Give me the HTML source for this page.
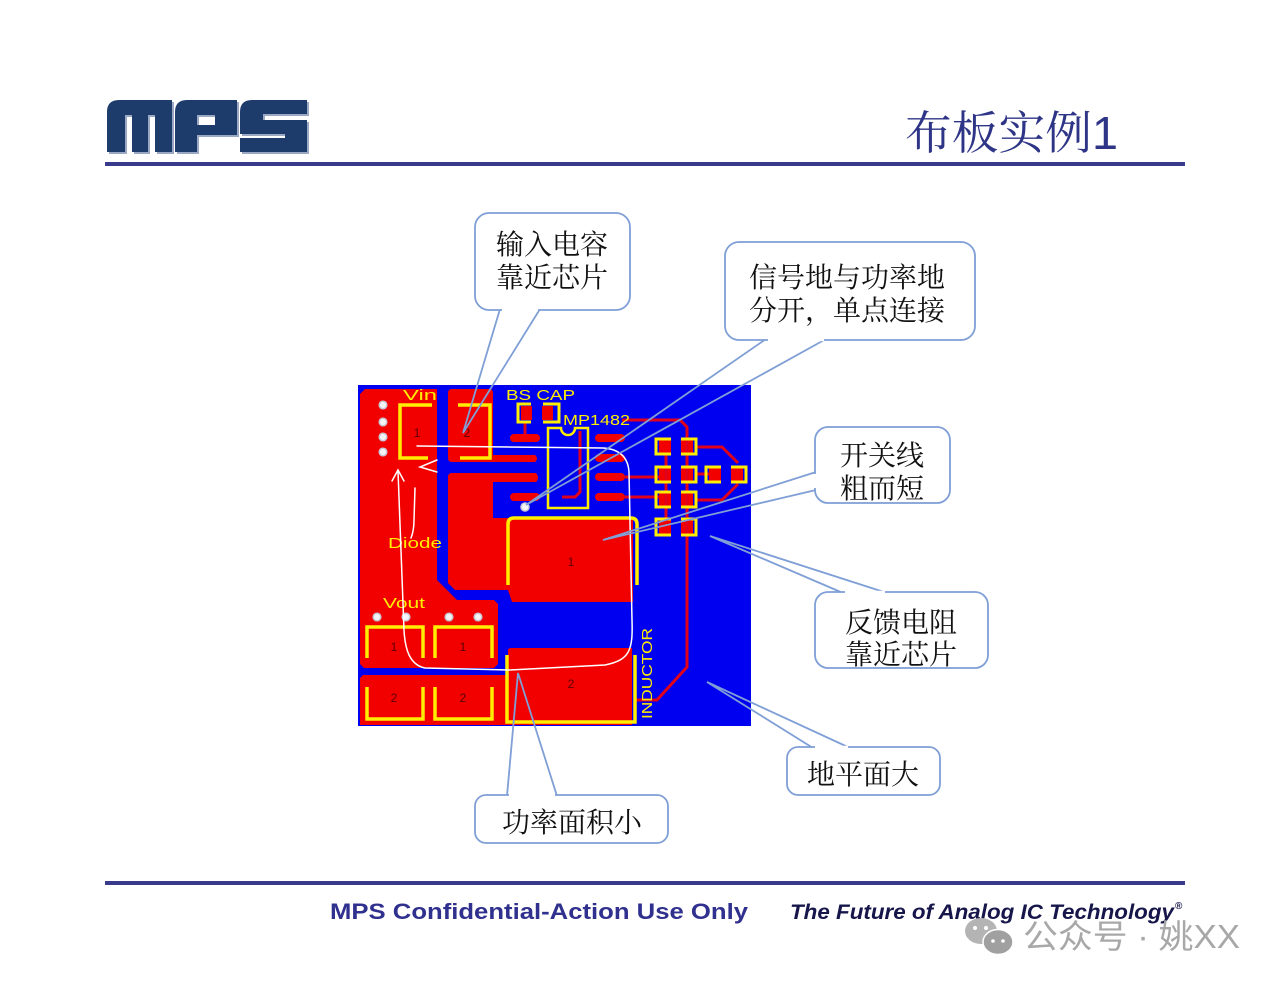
<!DOCTYPE html>
<html><head><meta charset="utf-8"><style>
html,body{margin:0;padding:0;background:#fff;}
svg{display:block;}
</style></head><body>
<svg width="1280" height="989" viewBox="0 0 1280 989" xmlns="http://www.w3.org/2000/svg">
<rect width="1280" height="989" fill="#fff"/>

<!-- MPS logo -->
<g transform="translate(2,2)" fill="#9aa8c4">
  <path d="M107 152 L107 112 Q107 100 119 100 L172 100 L172 152 L155 152 L155 115 L148 115 L148 152 L132 152 L132 115 L125 115 L125 152 Z"/>
  <path d="M175 152 L175 112 Q175 100 187 100 L237 100 L237 135 L197 135 L197 152 Z M197 115 L197 125 L215 125 L215 115 Z" fill-rule="evenodd"/>
  <path d="M240 134 L240 112 Q240 100 252 100 L307 100 L307 114 L263 114 L263 120 L307 120 L307 152 L240 152 L240 138 L285 138 L285 134 Z"/>
</g>
<g fill="#1d3b6b">
  <path d="M107 152 L107 112 Q107 100 119 100 L172 100 L172 152 L155 152 L155 115 L148 115 L148 152 L132 152 L132 115 L125 115 L125 152 Z"/>
  <path d="M175 152 L175 112 Q175 100 187 100 L237 100 L237 135 L197 135 L197 152 Z M197 115 L197 125 L215 125 L215 115 Z" fill-rule="evenodd"/>
  <path d="M240 134 L240 112 Q240 100 252 100 L307 100 L307 114 L263 114 L263 120 L307 120 L307 152 L240 152 L240 138 L285 138 L285 134 Z"/>
</g>

<!-- Title -->
<text x="905" y="149" font-family="'Liberation Sans','Noto Serif CJK SC',serif" font-size="46" fill="#2e3587" textLength="213" lengthAdjust="spacingAndGlyphs">布板实例1</text>
<rect x="105" y="162" width="1080" height="4" fill="#3a3a8c"/>

<!-- PCB board -->
<rect x="358" y="385" width="393" height="341" fill="#0000f0"/>
<g fill="#f20000">
  <!-- left Vin/Diode/Vout region -->
  <path d="M365 389 L437 389 L437 580 L457 600 L494 600 L498 604 L498 664 L494 668 L364 668 L360 664 L360 394 Z"/>
  <!-- input cap pad 2 -->
  <path d="M452 389 L489 389 Q493 389 493 393 L493 455 L535 455 Q539 458.5 535 462 L452 462 Q448 462 448 458 L448 393 Q448 389 452 389 Z"/>
  <!-- SW region + inductor pad 1 -->
  <path d="M452 473 L536 473 Q540 477.5 536 482 L493 482 L493 518 L633 518 L633 602 L512 602 L508 590 L455 590 L448 583 L448 477 Q448 473 452 473 Z"/>
  <!-- bottom + inductor pad 2 -->
  <path d="M363 675 L508 675 L508 650 Q508 648 512 648 L632 648 L632 725 L360 725 L360 678 Z"/>
  <!-- IC pins -->
  <rect x="510" y="434" width="30" height="8" rx="4"/>
  <rect x="510" y="493" width="30" height="8" rx="4"/>
  <rect x="595" y="434" width="30" height="8" rx="4"/>
  <rect x="595" y="454" width="30" height="8" rx="4"/>
  <rect x="595" y="473" width="30" height="8" rx="4"/>
  <rect x="595" y="493" width="30" height="8" rx="4"/>
  <!-- BS cap pad fills -->
  <rect x="521" y="406" width="11" height="14"/>
  <rect x="542" y="406" width="11" height="14"/>
  <!-- right column pad fills -->
  <rect x="659" y="440" width="12" height="13"/>
  <rect x="681" y="440" width="12" height="13"/>
  <rect x="659" y="468" width="12" height="13"/>
  <rect x="681" y="468" width="12" height="13"/>
  <rect x="659" y="493" width="12" height="13"/>
  <rect x="681" y="493" width="12" height="13"/>
  <rect x="659" y="520" width="12" height="14"/>
  <rect x="681" y="520" width="12" height="14"/>
  <rect x="709" y="468" width="12" height="13"/>
  <rect x="731" y="468" width="12" height="13"/>
</g>
<!-- thin red traces -->
<g fill="none" stroke="#e0001c" stroke-width="3">
  <path d="M622 420 L680 420 L687 427 L687 667 L657 700 L636 700"/>
  <path d="M525 423 L525 435"/>
  <path d="M580 431 L580 492 L575 497 L562 497"/>
  <path d="M625 477 L659 477"/>
  <path d="M625 497 L659 497"/>
  <path d="M666 453 L666 520"/>
  <path d="M697 447 L722 447 L738 463"/>
  <path d="M738 484 L722 500 L697 500"/>
  <path d="M697 474 L709 474"/>
</g>
<!-- yellow outlines -->
<g fill="none" stroke="#ffee00" stroke-width="3.5">
  <path d="M432 405 L400 405 L400 458 L428 458"/>
  <path d="M458 405 L490 405 L490 458 L460 458"/>
  <path d="M508 585 L508 524 Q508 518 514 518 L631 518 Q637 518 637 524 L637 585"/>
  <path d="M507 655 L507 722 L635 722 L635 655"/>
  <path d="M367 658 L367 627 L423 627 L423 658"/>
  <path d="M435 658 L435 627 L492 627 L492 658"/>
  <path d="M367 687 L367 719 L423 719 L423 687"/>
  <path d="M435 687 L435 719 L492 719 L492 687"/>
  <!-- IC -->
  <path d="M548 428 L561 428 A7 7 0 0 0 575 428 L588 428 L588 508 L548 508 Z" stroke-width="2.5"/>
  <!-- BS cap -->
  <path d="M531 404 L518 404 L518 422 L531 422" stroke-width="3"/>
  <path d="M543 404 L559 404 L559 422 L543 422" stroke-width="3"/>
  <!-- right pads -->
  <g stroke-width="3">
    <path d="M671 439 L656 439 L656 454 L671 454"/>
    <path d="M681 439 L696 439 L696 454 L681 454"/>
    <path d="M671 467 L656 467 L656 482 L671 482"/>
    <path d="M681 467 L696 467 L696 482 L681 482"/>
    <path d="M671 492 L656 492 L656 507 L671 507"/>
    <path d="M681 492 L696 492 L696 507 L681 507"/>
    <path d="M671 519 L656 519 L656 535 L671 535"/>
    <path d="M681 519 L696 519 L696 535 L681 535"/>
    <path d="M721 467 L706 467 L706 482 L721 482"/>
    <path d="M731 467 L746 467 L746 482 L731 482"/>
  </g>
</g>
<!-- vias -->
<g fill="#f4f4f4" stroke="#c8c8d8" stroke-width="1.5">
  <circle cx="383" cy="405" r="3.8"/>
  <circle cx="383" cy="422" r="3.8"/>
  <circle cx="383" cy="437" r="3.8"/>
  <circle cx="383" cy="452" r="3.8"/>
  <circle cx="377" cy="617" r="3.8"/>
  <circle cx="406" cy="617" r="3.8"/>
  <circle cx="449" cy="617" r="3.8"/>
  <circle cx="478" cy="617" r="3.8"/>
  <circle cx="525" cy="507" r="4"/>
</g>
<!-- PCB labels -->
<g font-family="'Liberation Sans',sans-serif" fill="#ffee00" font-size="15">
  <text x="403" y="400" textLength="34" lengthAdjust="spacingAndGlyphs">Vin</text>
  <text x="506" y="400" textLength="69" lengthAdjust="spacingAndGlyphs">BS CAP</text>
  <text x="563" y="425" textLength="67" lengthAdjust="spacingAndGlyphs">MP1482</text>
  <text x="388" y="548" textLength="54" lengthAdjust="spacingAndGlyphs">Diode</text>
  <text x="383" y="608" textLength="42" lengthAdjust="spacingAndGlyphs">Vout</text>
  <text transform="translate(652,719) rotate(-90)" x="0" y="0" textLength="91" lengthAdjust="spacingAndGlyphs">INDUCTOR</text>
</g>
<g font-family="'Liberation Sans',sans-serif" fill="#5a0000" font-size="12" text-anchor="middle">
  <text x="417" y="437">1</text>
  <text x="467" y="437">2</text>
  <text x="571" y="566">1</text>
  <text x="571" y="688">2</text>
  <text x="394" y="651">1</text>
  <text x="463" y="651">1</text>
  <text x="394" y="702">2</text>
  <text x="463" y="702">2</text>
</g>
<!-- white current loop -->
<g fill="none" stroke="#ffffff" stroke-width="1.5" stroke-linecap="round">
  <path d="M417 446 L603 448 C618 449 628 456 629 472 L632 620 C633 650 630 660 605 665 L510 670 L425 668 C410 665 405 650 404 630 L398 471"/>
  <path d="M392 481 L398 470 L404 481"/>
  <path d="M437 460 L420 467 L437 472"/>
  <path d="M415 488 L414 520 C414 528 413 533 411 538"/>
</g>

<!-- Callouts -->
<g fill="none" stroke="#7f9fd6" stroke-width="1.8">
  <path d="M500 309 L463 433 L540 309"/>
  <path d="M766 339 L526 505 L826 339"/>
  <path d="M816 472 L603 540 L816 490"/>
  <path d="M843 593 L710 536 L887 593"/>
  <path d="M813 748 L707 682 L850 748"/>
  <path d="M507 796 L518 673 L557 796"/>
</g>
<g fill="#fff" stroke="#7f9fd6" stroke-width="1.8">
  <rect x="475" y="213" width="155" height="97" rx="14"/>
  <rect x="725" y="242" width="250" height="98" rx="14"/>
  <rect x="815" y="427" width="135" height="76" rx="13"/>
  <rect x="815" y="592" width="173" height="76" rx="13"/>
  <rect x="787" y="747" width="153" height="48" rx="11"/>
  <rect x="475" y="795" width="193" height="48" rx="11"/>
</g>
<g stroke="#fff" stroke-width="2.4">
  <path d="M502 310 L538 310"/>
  <path d="M768 340 L824 340"/>
  <path d="M815 474 L815 488"/>
  <path d="M845 592 L885 592"/>
  <path d="M815 747 L848 747"/>
  <path d="M509 795 L555 795"/>
</g>
<g font-family="'Liberation Serif','Noto Serif CJK SC',serif" font-size="28" fill="#111" text-anchor="middle">
  <text x="552" y="254">输入电容</text>
  <text x="552" y="287">靠近芯片</text>
  <text x="847" y="287">信号地与功率地</text>
  <text x="847" y="320">分开，单点连接</text>
  <text x="882" y="465">开关线</text>
  <text x="882" y="498">粗而短</text>
  <text x="901" y="632">反馈电阻</text>
  <text x="901" y="664">靠近芯片</text>
  <text x="863" y="784">地平面大</text>
  <text x="572" y="832">功率面积小</text>
</g>

<!-- Footer -->
<rect x="105" y="881" width="1080" height="4" fill="#3a3a8c"/>
<text x="330" y="919" font-family="'Liberation Sans',sans-serif" font-weight="bold" font-size="22" fill="#30308f" textLength="418" lengthAdjust="spacingAndGlyphs">MPS Confidential-Action Use Only</text>
<text x="790" y="919" font-family="'Liberation Sans',sans-serif" font-weight="bold" font-style="italic" font-size="21" fill="#16164a" textLength="384" lengthAdjust="spacingAndGlyphs">The Future of Analog IC Technology</text>
<text x="1175" y="909" font-family="'Liberation Sans',sans-serif" font-weight="bold" font-size="10" fill="#16164a">®</text>

<!-- Watermark -->
<g>
  <ellipse cx="981" cy="931" rx="16" ry="13" fill="#b4b4b4"/>
  <ellipse cx="998" cy="942" rx="15" ry="12.5" fill="#a0a0a0" stroke="#fff" stroke-width="1.5"/>
  <circle cx="975" cy="928" r="2" fill="#fff"/>
  <circle cx="986" cy="928" r="2" fill="#fff"/>
  <circle cx="993" cy="941" r="1.8" fill="#fff"/>
  <circle cx="1003" cy="941" r="1.8" fill="#fff"/>
  <text x="1023" y="948" font-family="'Liberation Sans','Noto Sans CJK SC',sans-serif" font-size="33" fill="#a8a8a8" textLength="217" lengthAdjust="spacingAndGlyphs">公众号 · 姚XX</text>
</g>
</svg>
</body></html>
